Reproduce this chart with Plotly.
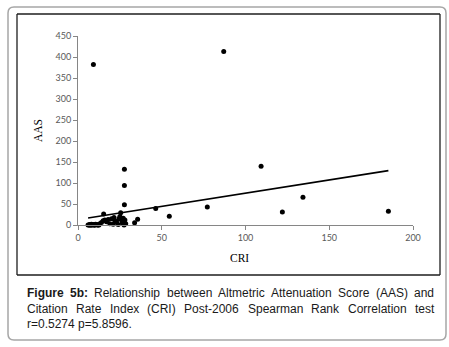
import numpy as np
import plotly.graph_objects as go

# ---------------- data ----------------
cri = [6, 7, 7.5, 8, 8.5, 9, 10, 10.5, 11, 12, 13,
       6.5, 7, 8, 9.5, 10, 11.5, 12.5,
       14, 15, 15.3, 16, 17, 18, 19, 20, 21, 21.5, 22, 23, 24, 24.5, 25, 25.5,
       26, 26.5, 27, 27.5, 28, 28.5, 27.7, 27.7, 27.7,
       9.2, 33.8, 35.6, 46.4, 54.5, 77.2, 87, 109.3, 122, 134.3, 185.3]
aas = [0, 1, 0, 2, 0, 1, 0, 2, 1, 0, 3,
       0, 0, 0, 0, 0, 0, 0,
       6, 10, 26, 12, 8, 13, 3, 15, 2, 18, 10, 7, 1, 15, 20, 29,
       12, 5, 16, 0, 12, 3, 48, 94, 133,
       382, 5.5, 13.5, 39, 21, 43, 413, 140, 31, 66, 33]
x_ticks = [0, 50, 100, 150, 200]
y_ticks = [0, 50, 100, 150, 200, 250, 300, 350, 400, 450]
x_title = "CRI"
y_title = "AAS"
caption_line1 = [("Figure", True), ("5b:", True), ("Relationship", False), ("between", False),
                 ("Altmetric", False), ("Attenuation", False), ("Score", False), ("(AAS)", False), ("and", False)]
caption_line2 = ["Citation", "Rate", "Index", "(CRI)", "Post-2006", "Spearman", "Rank", "Correlation", "test"]
caption_line3 = "r=0.5274 p=5.8596."

# ---------------- layout geometry (pixels) ----------------
W, H = 449, 347
L, R, T, B = 78, 36, 36, 122
PW, PH = W - L - R, H - T - B


def px(x):
    return (x - L) / PW


def py(y):
    return (H - B - y) / PH


# trend line: least squares fit of the data (like Excel linear trendline)
slope, intercept = np.polyfit(cri, aas, 1)
tx = np.array([min(cri), max(cri)])
ty = slope * tx + intercept

fig = go.Figure()
fig.add_trace(go.Scatter(x=cri, y=aas, mode="markers",
                         marker=dict(color="black", size=5),
                         cliponaxis=False, showlegend=False, hoverinfo="x+y"))
fig.add_trace(go.Scatter(x=tx, y=ty, mode="lines",
                         line=dict(color="black", width=1.6),
                         cliponaxis=False, showlegend=False, hoverinfo="skip"))

axis_common = dict(showgrid=False, zeroline=False, showline=True, linecolor="#868686",
                   linewidth=1, ticks="outside", ticklen=4, tickcolor="#868686",
                   tickfont=dict(family="Lato", size=9, color="#595959"))
fig.update_xaxes(range=[0, 200], tickvals=x_ticks, **axis_common)
fig.update_yaxes(range=[0, 450], tickvals=y_ticks, **axis_common)

shapes = []
# outer rounded caption box
x0, y0, x1, y1, r = 8, 7, 446, 340, 6
path = (f"M {px(x0 + r)},{py(y0)} L {px(x1 - r)},{py(y0)} Q {px(x1)},{py(y0)} {px(x1)},{py(y0 + r)} "
        f"L {px(x1)},{py(y1 - r)} Q {px(x1)},{py(y1)} {px(x1 - r)},{py(y1)} "
        f"L {px(x0 + r)},{py(y1)} Q {px(x0)},{py(y1)} {px(x0)},{py(y1 - r)} "
        f"L {px(x0)},{py(y0 + r)} Q {px(x0)},{py(y0)} {px(x0 + r)},{py(y0)} Z")
shapes.append(dict(type="path", xref="paper", yref="paper", path=path,
                   line=dict(color="#a6a6a6", width=1.5), layer="above"))
# chart frame
fx0, fy0, fx1, fy1 = 17, 14, 440, 275
for (ax0, ay0, ax1, ay1) in [(fx0, fy0, fx1, fy0), (fx0, fy1, fx1, fy1),
                             (fx0, fy0, fx0, fy1), (fx1, fy0, fx1, fy1)]:
    shapes.append(dict(type="line", xref="paper", yref="paper",
                       x0=px(ax0), x1=px(ax1), y0=py(ay0), y1=py(ay1),
                       line=dict(color="#1e1e1e", width=1.3), layer="above"))

annotations = [
    dict(text=y_title, x=px(38), y=py(131), xref="paper", yref="paper", textangle=-90,
         showarrow=False, font=dict(family="Liberation Serif", size=11.5, color="black"),
         xanchor="center", yanchor="middle"),
    dict(text=x_title, x=px(239), y=py(258), xref="paper", yref="paper",
         showarrow=False, font=dict(family="Liberation Serif", size=11.5, color="black"),
         xanchor="center", yanchor="middle"),
]

# Arial / Liberation Sans advance widths (1/1000 em)
REG = {' ': 278, 'a': 556, 'b': 556, 'c': 500, 'd': 556, 'e': 556, 'f': 278, 'g': 556, 'h': 556,
       'i': 222, 'j': 222, 'k': 500, 'l': 222, 'm': 833, 'n': 556, 'o': 556, 'p': 556, 'q': 556,
       'r': 333, 's': 500, 't': 278, 'u': 556, 'v': 500, 'w': 722, 'x': 500, 'y': 500, 'z': 500,
       'A': 667, 'C': 722, 'I': 278, 'P': 667, 'R': 722, 'S': 667, '(': 333, ')': 333, '-': 333,
       '.': 278, ':': 278, '=': 584}
BOLD = {'F': 611, 'i': 278, 'g': 611, 'u': 611, 'r': 389, 'e': 556, 'b': 611, ':': 333}
FS = 12
CAP_COLOR = "#1a1a1a"


def wwidth(word, bold):
    total = 0
    for ch in word:
        if ch.isdigit():
            total += 556
        elif bold:
            total += BOLD.get(ch, 600)
        else:
            total += REG.get(ch, 556)
    return total * FS / 1000


def justify(words, y, left=25, right=432):
    widths = [wwidth(w, b) for w, b in words]
    gap = (right - left - sum(widths)) / (len(words) - 1)
    xpos = left
    for (w, b), wd in zip(words, widths):
        annotations.append(dict(text=f"<b>{w}</b>" if b else w, x=px(xpos), y=py(y),
                                xref="paper", yref="paper", showarrow=False,
                                xanchor="left", yanchor="middle",
                                font=dict(family="Liberation Sans", size=FS, color=CAP_COLOR)))
        xpos += wd + gap


justify(caption_line1, 293)
justify([(w, False) for w in caption_line2], 308.5)
annotations.append(dict(text=caption_line3, x=px(25), y=py(324), xref="paper", yref="paper",
                        showarrow=False, xanchor="left", yanchor="middle",
                        font=dict(family="Liberation Sans", size=FS, color=CAP_COLOR)))

fig.update_layout(width=W, height=H, autosize=False,
                  margin=dict(l=L, r=R, t=T, b=B, pad=0),
                  paper_bgcolor="white", plot_bgcolor="white",
                  shapes=shapes, annotations=annotations, showlegend=False)

fig.write_html("out.html",
               config={"displayModeBar": False},
               post_script="document.body.style.margin='0';document.body.style.padding='0';"
                           "document.body.style.overflow='hidden';")
